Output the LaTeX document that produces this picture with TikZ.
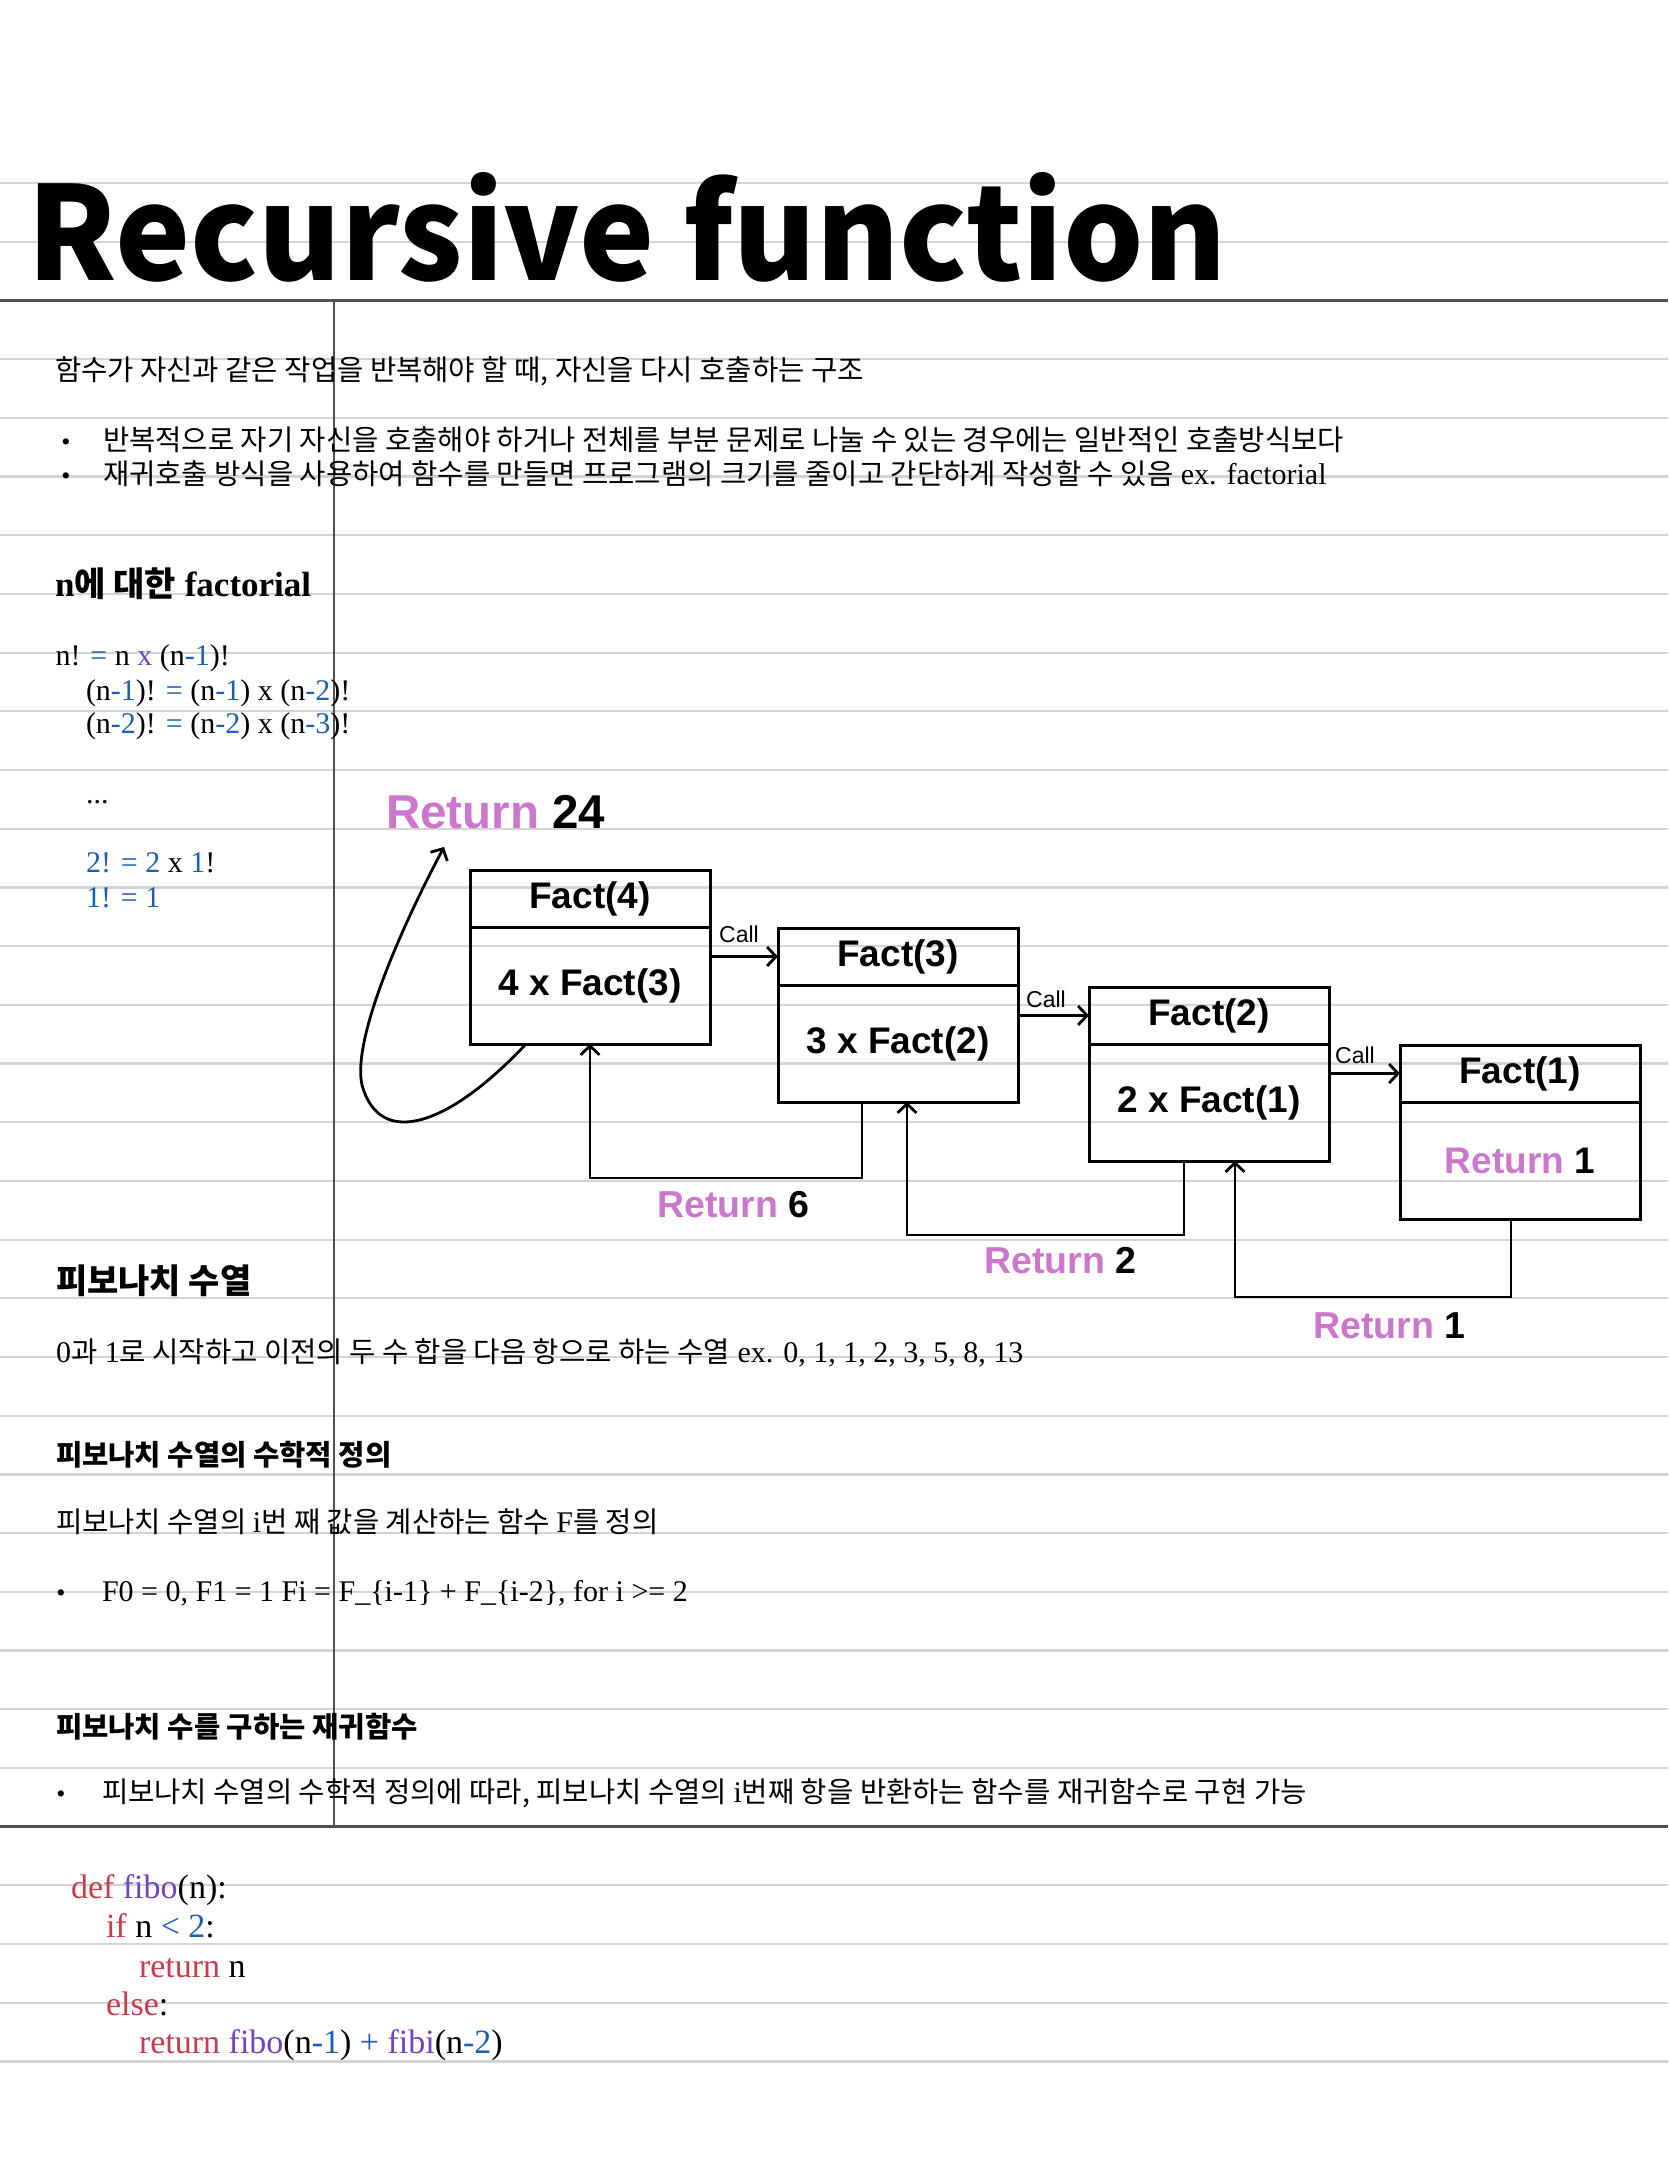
\documentclass[tikz,border=0pt]{standalone}
\usepackage{fontspec}
\setmainfont{Liberation Serif}
\newfontfamily\kr{Noto Sans CJK KR}
\newfontfamily\hv{Liberation Sans}
\usetikzlibrary{arrows.meta}
\definecolor{rpink}{RGB}{204,119,204}
\definecolor{cred}{RGB}{200,60,75}
\definecolor{cpurp}{RGB}{112,68,192}
\definecolor{cblue}{RGB}{26,95,180}
\definecolor{rulegray}{RGB}{212,212,212}
\definecolor{darkrule}{RGB}{80,80,80}
\newcommand\K[1]{{\kr\fontsize{28.6}{32}\selectfont #1}}
\newcommand\cbl[1]{\textcolor{cblue}{#1}}
\newcommand\crd[1]{\textcolor{cred}{#1}}
\newcommand\cpp[1]{\textcolor{cpurp}{#1}}
\newcommand\rt[1]{\textcolor{rpink}{Return} #1}
\begin{document}
\begin{tikzpicture}[x=1pt,y=-1pt,
  txt/.style={anchor=base west, inner sep=0pt, outer sep=0pt, font=\fontsize{30}{34}\selectfont},
  code/.style={anchor=base west, inner sep=0pt, outer sep=0pt, font=\fontsize{34}{38}\selectfont},
  bul/.style={anchor=base, inner sep=0pt, font=\fontsize{26}{30}\selectfont},
  lightrule/.style={draw=rulegray, line width=2.2pt},
  heavyrule/.style={draw=darkrule, line width=2.6pt},
  hdr/.style={draw, line width=3pt, minimum width=240pt, minimum height=57pt, inner sep=0pt, outer sep=0pt, font=\hv\bfseries\fontsize{37}{40}\selectfont},
  bod/.style={draw, line width=3pt, minimum width=240pt, minimum height=117pt, inner sep=0pt, outer sep=0pt, font=\hv\bfseries\fontsize{37}{40}\selectfont},
  arr/.style={line width=2.8pt, -{Straight Barb[length=9pt,width=19pt]}},
  calll/.style={anchor=base west, inner sep=0pt, font=\hv\fontsize{23}{26}\selectfont},
  retl/.style={anchor=base west, inner sep=0pt, font=\hv\bfseries\fontsize{37.5}{40}\selectfont}
]
\useasboundingbox[fill=white] (0,0) rectangle (1668,2157);
% ruled page
\foreach \k in {0,...,32} {
  \draw[lightrule] (0,{183+58.7*\k}) -- (1668,{183+58.7*\k});
}
\draw[heavyrule] (0,{183+58.7*2}) -- (1668,{183+58.7*2});
\draw[heavyrule] (0,{183+58.7*28}) -- (1668,{183+58.7*28});
\draw[draw=darkrule, line width=1.8pt] (334,{183+58.7*2}) -- (334,{183+58.7*28});

% title
\node[anchor=base west, inner sep=0pt] (title) at (27,280) {\scalebox{0.973}[1]{\kr\bfseries\fontsize{130}{134}\selectfont Recursive function}};

% intro
\node[txt] (intro) at (55,380) {\K{함수가 자신과 같은 작업을 반복해야 할 때, 자신을 다시 호출하는 구조}};
\node[bul] (bul1) at (66,450) {\textbullet};
\node[txt] (item1) at (103,450) {\K{반복적으로 자기 자신을 호출해야 하거나 전체를 부분 문제로 나눌 수 있는 경우에는 일반적인 호출방식보다}};
\node[bul] (bul2) at (66,484) {\textbullet};
\node[txt] (item2) at (103,484) {\K{재귀호출 방식을 사용하여 함수를 만들면 프로그램의 크기를 줄이고 간단하게 작성할 수 있음} ex. factorial};

% factorial
\node[txt] (h1) at (55,596) {\bfseries\fontsize{35}{40}\selectfont n{\kr\fontsize{34}{38}\selectfont 에 대한} factorial};
\node[txt] (fa1) at (55.5,665) {n! \cbl{=} n \cpp{x} (n\cbl{-1})!};
\node[txt] (fa2) at (86,700) {(n\cbl{-1})! \cbl{=} (n\cbl{-1}) x (n\cbl{-2})!};
\node[txt] (fa3) at (86,733) {(n\cbl{-2})! \cbl{=} (n\cbl{-2}) x (n\cbl{-3})!};
\node[txt] (fa4) at (86,803) {...};
\node[txt] (fa5) at (86,872) {\cbl{2! = 2} x \cbl{1}!};
\node[txt] (fa6) at (86,907) {\cbl{1! = 1}};

% diagram boxes
\node[hdr, anchor=north west] (f4h) at (470,870) {Fact(4)};
\node[bod, anchor=north] (f4b) at (f4h.south) {4 x Fact(3)};
\node[hdr, anchor=north west] (f3h) at (778,928) {Fact(3)};
\node[bod, anchor=north] (f3b) at (f3h.south) {3 x Fact(2)};
\node[hdr, anchor=north west] (f2h) at (1089,987) {Fact(2)};
\node[bod, anchor=north] (f2b) at (f2h.south) {2 x Fact(1)};
\node[hdr, anchor=north west] (f1h) at (1400,1045) {Fact(1)};
\node[bod, anchor=north] (f1b) at (f1h.south) {\rt{1}};

% call arrows
\draw[arr] (f4b.east |- f3h.west) -- (f3h.west);
\draw[arr] (f3b.east |- f2h.west) -- (f2h.west);
\draw[arr] (f2b.east |- f1h.west) -- (f1h.west);
\node[calll] (call1) at (719,942) {Call};
\node[calll] (call2) at (1026,1007) {Call};
\node[calll] (call3) at (1335,1063) {Call};

% return arrows
\draw[arr] ([xshift=-36pt]f3b.south) -- ++(0,76) -| (f4b.south);
\draw[arr] ([xshift=-25pt]f2b.south) -- ++(0,74) -| ([xshift=9pt]f3b.south);
\draw[arr] ([xshift=-9pt]f1b.south) -- ++(0,78) -| ([xshift=26pt]f2b.south);
\node[retl] (r6) at (657,1217) {\rt{6}};
\node[retl] (r2) at (984,1273) {\rt{2}};
\node[retl] (r1) at (1313,1338) {\rt{1}};

% self loop
\coordinate (loopend) at (444,847);
\draw[arr] ([xshift=-64pt]f4b.south) .. controls (450,1125) and (380,1150) .. (362,1085) .. controls (352,1040) and (400,930) .. (loopend);
\node[anchor=base west, inner sep=0pt, font=\hv\bfseries\fontsize{47.5}{50}\selectfont] (r24) at (386,828) {\rt{24}};

% fibonacci
\node[txt] (h2) at (56,1293) {\kr\bfseries\fontsize{34}{38}\selectfont 피보나치 수열};
\node[txt] (fib1) at (56,1362) {0\K{과} 1\K{로 시작하고 이전의 두 수 합을 다음 항으로 하는 수열} ex. 0, 1, 1, 2, 3, 5, 8, 13};
\node[txt] (h3) at (56,1465) {\kr\bfseries\fontsize{28.6}{32}\selectfont 피보나치 수열의 수학적 정의};
\node[txt] (fib2) at (56,1532) {\K{피보나치 수열의 }i\K{번 째 값을 계산하는 함수 }F\K{를 정의}};
\node[bul] (bul3) at (61,1601) {\textbullet};
\node[txt] (fib3) at (102,1601) {F0 = 0, F1 = 1 Fi = F\_\{i-1\} + F\_\{i-2\}, for i >= 2};
\node[txt] (h4) at (56,1737) {\kr\bfseries\fontsize{28.6}{32}\selectfont 피보나치 수를 구하는 재귀함수};
\node[bul] (bul4) at (61,1802) {\textbullet};
\node[txt] (fib4) at (102,1802) {\K{피보나치 수열의 수학적 정의에 따라, 피보나치 수열의 }i\K{번째 항을 반환하는 함수를 재귀함수로 구현 가능}};

% code
\node[code] (c1) at (71,1898) {\crd{def} \cpp{fibo}(n):};
\node[code] (c2) at (106,1937) {\crd{if} n \cbl{< 2}:};
\node[code] (c3) at (139,1977) {\crd{return} n};
\node[code] (c4) at (106,2015) {\crd{else}:};
\node[code] (c5) at (139,2053) {\crd{return} \cpp{fibo}(n\cbl{-1}) \cbl{+} \cpp{fibi}(n\cbl{-2})};
\end{tikzpicture}
\end{document}
